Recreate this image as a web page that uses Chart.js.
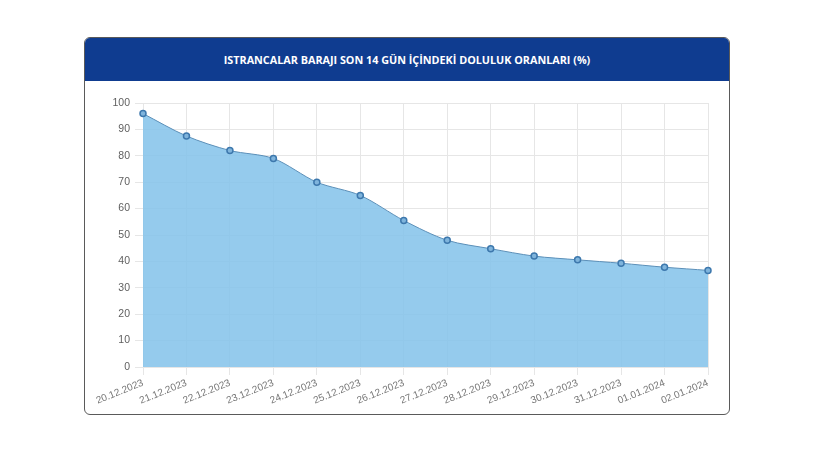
<!DOCTYPE html>
<html>
<head>
<meta charset="utf-8">
<script src="https://cdn.jsdelivr.net/npm/chart.js@4"></script>
<style>
  html, body { margin: 0; padding: 0; background: #fff; }
  .card {
    position: absolute; left: 84px; top: 37px; width: 644px; height: 376px;
    border: 1.5px solid #5a5a5a; border-radius: 6px; overflow: hidden; background: #fff;
  }
  .card-head {
    height: 43px; background: #0f3c90; color: #fff;
    font: bold 10.8px "Open Sans", sans-serif; text-align: center; line-height: 43px;
  }
  .chart-wrap { position: absolute; left: 0; top: 43px; width: 644px; height: 333px; }
</style>
</head>
<body>
<div class="card">
  <div class="card-head">ISTRANCALAR BARAJI SON 14 GÜN İÇİNDEKİ DOLULUK ORANLARI (%)</div>
  <div class="chart-wrap"><canvas id="damChart"></canvas></div>
</div>
<script>
const dates = ['20.12.2023','21.12.2023','22.12.2023','23.12.2023','24.12.2023','25.12.2023','26.12.2023',
               '27.12.2023','28.12.2023','29.12.2023','30.12.2023','31.12.2023','01.01.2024','02.01.2024'];
const fillRates = [96.0, 87.5, 82.0, 79.0, 70.0, 65.0, 55.5, 48.0, 44.8, 42.0, 40.6, 39.3, 37.8, 36.6];
const yTicks = { min: 0, max: 100, step: 10 };

new Chart(document.getElementById('damChart'), {
  type: 'line',
  data: {
    labels: dates,
    datasets: [{
      data: fillRates,
      borderColor: '#5b8fb8',
      borderWidth: 1,
      backgroundColor: 'rgba(130,194,234,.85)',
      fill: 'origin',
      tension: .3,
      pointRadius: 3,
      pointBorderWidth: 1.5,
      pointBackgroundColor: '#7fb4dc',
      pointBorderColor: '#3d78ad'
    }]
  },
  options: {
    responsive: true,
    maintainAspectRatio: false,
    animation: false,
    layout: { padding: { top: 22, right: 21, left: 0, bottom: 0 } },
    plugins: { legend: { display: false }, tooltip: { enabled: false } },
    scales: {
      x: {
        grid: { color: '#e6e6e6' },
        border: { color: '#e6e6e6' },
        ticks: {
          color: '#777', font: { family: 'Liberation Sans', size: 10 },
          autoSkip: false, minRotation: 22, maxRotation: 22, padding: 2
        },
        afterFit: s => { s.height = 47; }
      },
      y: {
        min: yTicks.min, max: yTicks.max,
        grid: { color: '#e6e6e6' },
        border: { color: '#e6e6e6' },
        ticks: { stepSize: yTicks.step, color: '#5f5f5f', font: { family: 'Liberation Sans', size: 10.5 }, padding: 5 },
        afterFit: s => { s.width = 58; }
      }
    }
  }
});
</script>
</body>
</html>
